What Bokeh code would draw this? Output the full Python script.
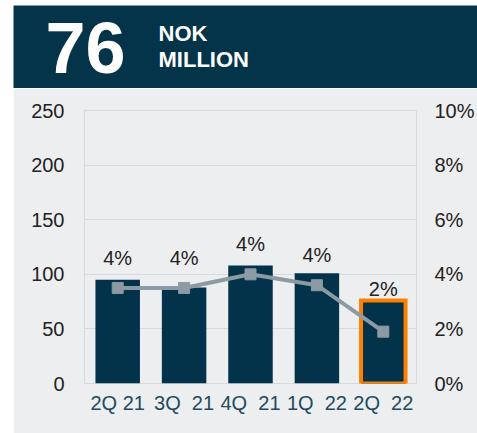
from bokeh.plotting import figure
from bokeh.models import (Range1d, LinearAxis, FixedTicker, NumeralTickFormatter, Spacer,
                          ColumnDataSource)
from bokeh.layouts import column, row
from bokeh.core.properties import value
from bokeh.embed import file_html
from bokeh.resources import INLINE

# ---- data ----
quarters = ["2Q 21", "3Q \u00a021", "4Q \u00a021", "1Q \u00a022", "2Q \u00a022"]
ebitda = [95, 88, 108, 101, 76]
margin = [0.035, 0.035, 0.040, 0.036, 0.019]
left_ticks = [0, 50, 100, 150, 200, 250]
right_ticks = [0, 0.02, 0.04, 0.06, 0.08, 0.10]
unit_lines = ["NOK", "MILLION"]

# ---- styles ----
HEADER = "#03344A"
BAR = "#02334A"
BG = "#EDEEF0"
GRID = "#D6DADE"
LINE = "#8C9AA4"
ORANGE = "#FF8000"
TXT = "#222222"
XTXT = "#1E4B5F"
FONT = "Liberation Sans"
label_offsets = [-30, -30, -30, -30, -43]

W = 464
HH = 83
PH = 345

# ---- header ----
hp = figure(width=W, height=HH, x_range=Range1d(0, W), y_range=Range1d(HH, 0),
            output_backend="svg", toolbar_location=None,
            min_border=0, min_border_left=0, min_border_right=0,
            min_border_top=0, min_border_bottom=0,
            background_fill_color=HEADER, border_fill_color=HEADER,
            outline_line_color=None, x_axis_type=None, y_axis_type=None)
hp.text(x=[32], y=[42.5], text=[f"{ebitda[-1]}"], text_font=value(FONT),
        text_font_style="bold", text_font_size="72px", text_color="white",
        text_baseline="middle", text_align="left")
hp.text(x=[145, 145], y=[28, 54], text=unit_lines, text_font=value(FONT),
        text_font_style="bold", text_font_size="22px", text_color="white",
        text_baseline="middle", text_align="left")

# ---- main chart ----
p = figure(width=W, height=PH, x_range=quarters, y_range=Range1d(0, 250),
           output_backend="svg", toolbar_location=None,
           min_border_left=71, min_border_right=60, min_border_top=22, min_border_bottom=50,
           background_fill_color=BG, border_fill_color=BG,
           outline_line_color=GRID, outline_line_width=1)
for fig in (hp, p):
    if hasattr(fig, "frame_align"):
        fig.frame_align = False

p.extra_y_ranges = {"pct": Range1d(0, 0.10)}
p.add_layout(LinearAxis(y_range_name="pct", ticker=FixedTicker(ticks=right_ticks),
                        formatter=NumeralTickFormatter(format="0%")), "right")

p.yaxis[0].ticker = FixedTicker(ticks=left_ticks)
p.ygrid.ticker = FixedTicker(ticks=left_ticks)
p.ygrid.grid_line_color = GRID
p.xgrid.grid_line_color = None

for ax in p.axis:
    ax.axis_line_color = None
    ax.major_tick_line_color = None
    ax.minor_tick_line_color = None
    ax.major_tick_out = 0
    ax.major_tick_in = 0
    ax.major_label_text_font = FONT
    ax.major_label_text_font_size = "20px"
    ax.major_label_text_color = TXT
p.yaxis[0].major_label_standoff = 20
p.yaxis[1].major_label_standoff = 18
p.xaxis.major_label_standoff = 8
p.xaxis.major_label_text_color = XTXT

src = ColumnDataSource(dict(q=quarters, v=ebitda, m=margin,
                            lbl=[f"{m:.0%}" for m in margin], off=label_offsets))
p.vbar(x="q", top="v", width=0.67, source=src, fill_color=BAR, line_color=None)
last = ColumnDataSource(dict(q=quarters[-1:], v=ebitda[-1:]))
p.vbar(x="q", top="v", width=0.67, source=last, fill_color=BAR,
       line_color=ORANGE, line_width=4, line_join="miter")

p.line(x="q", y="m", source=src, y_range_name="pct", line_color=LINE, line_width=4)
p.scatter(x="q", y="m", source=src, y_range_name="pct", marker="square", size=11,
          fill_color=LINE, line_color=LINE)
p.text(x="q", y="m", text="lbl", source=src, y_range_name="pct", y_offset="off",
       text_align="center", text_baseline="middle", text_font=value(FONT),
       text_font_size="20px", text_color=TXT)

layout = column(Spacer(width=W, height=5),
                row(Spacer(width=13, height=HH + PH), column(hp, p)))
open("out.html", "w").write(file_html(layout, INLINE))
